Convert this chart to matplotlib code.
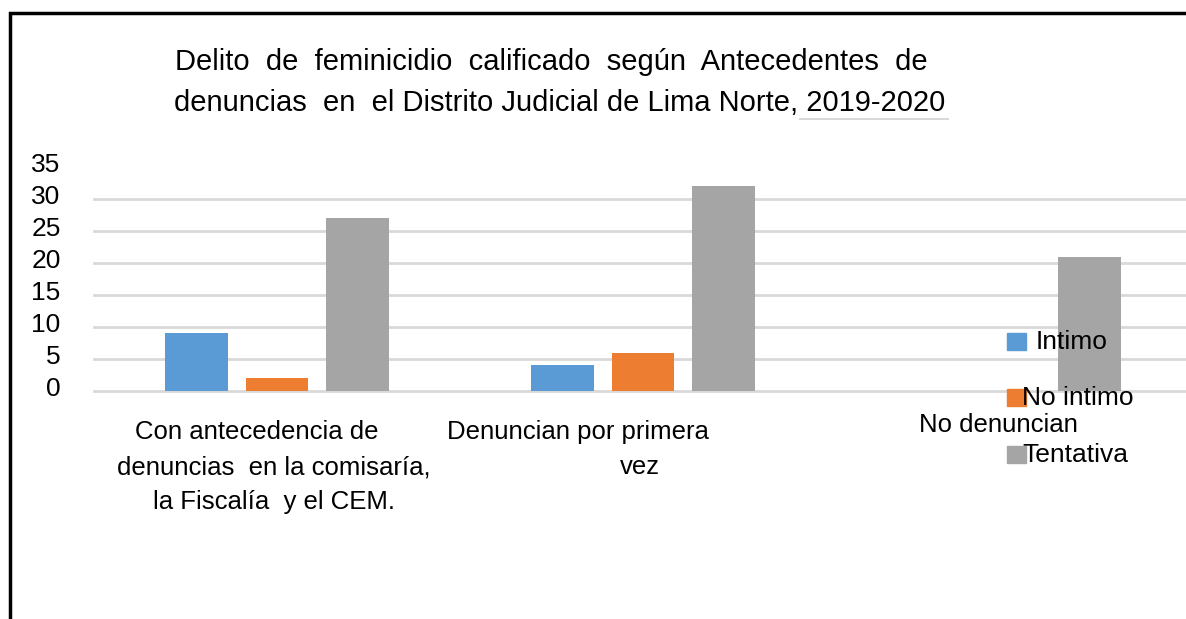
import numpy as np
import matplotlib
matplotlib.use("Agg")
import matplotlib.pyplot as plt
from matplotlib.patches import Rectangle
from matplotlib.lines import Line2D
from matplotlib.transforms import ScaledTranslation

plt.rcParams["font.family"] = ["Liberation Sans", "DejaVu Sans"]

W, H = 1186, 619

categories = ["Con antecedencia de\ndenuncias  en la comisaría,\nla Fiscalía  y el CEM.",
              "Denuncian por primera\nvez",
              "No denuncian"]
series = ["Intimo", "No intimo", "Tentativa"]
intimo = [9, 4, 0]
no_intimo = [2, 6, 0]
tentativa = [27, 32, 21]
yticks = [0, 5, 10, 15, 20, 25, 30, 35]
title_lines = ["Delito  de  feminicidio  calificado  según  Antecedentes  de",
               "denuncias  en  el Distrito Judicial de Lima Norte, 2019-2020"]

colors = ["#5B9BD5", "#ED7D31", "#A5A5A5"]
grid_c = "#D9D9D9"


def fx(x):
    return x / W


def fy(y):
    return 1 - y / H


fig = plt.figure(figsize=(W / 100, H / 100), dpi=100)
ax = fig.add_axes([fx(94), fy(391), (W - 94) / W, (391 - 167) / H])

x = np.arange(len(categories))
bw = 0.172
step = 0.221
for i, (vals, c) in enumerate(zip([intimo, no_intimo, tentativa], colors)):
    ax.bar(x + (i - 1) * step, vals, width=bw, color=c, zorder=3)

ax.set_xlim(-0.5, -0.5 + (W - 94) / 366)
ax.set_ylim(0, 35)
ax.set_yticks(yticks)
ax.set_xticks([])
ax.yaxis.grid(True, color=grid_c, linewidth=2, zorder=0)
for gl in ax.get_ygridlines():
    gl.set_clip_on(False)
ax.get_ygridlines()[-1].set_visible(False)
ax.tick_params(axis="y", length=0, pad=24, labelsize=19)
up = ScaledTranslation(0, 4 / 100, fig.dpi_scale_trans)
for lab in ax.get_yticklabels():
    lab.set_transform(lab.get_transform() + up)
for s in ax.spines.values():
    s.set_visible(False)

# category labels, line by line
label_x = [[257, 274, 274], [578, 640], [998]]
label_y = [[432, 467, 502], [432, 467], [425]]
for cat, xs, ys in zip(categories, label_x, label_y):
    for line, lx, ly in zip(cat.split("\n"), xs, ys):
        fig.text(fx(lx), fy(ly), line, ha="center", va="center", fontsize=18.5)

# title
title_x = [551, 560]
title_y = [62, 103]
for line, tx, ty in zip(title_lines, title_x, title_y):
    fig.text(fx(tx), fy(ty), line, ha="center", va="center", fontsize=21)
fig.add_artist(Line2D([fx(800), fx(948)], [fy(119), fy(119)], color=grid_c, lw=1.5))

# legend drawn by hand to keep its overlapping look
leg_y = [342, 398, 455]
leg_tx = [1036, 1022, 1022]
for name, c, ly, tx in zip(series, colors, leg_y, leg_tx):
    fig.add_artist(Rectangle((fx(1007), fy(ly + 8)), 19 / W, 17 / H,
                             transform=fig.transFigure, color=c))
    fig.text(fx(tx), fy(ly), name, ha="left", va="center", fontsize=19)

# outer frame
fig.add_artist(Rectangle((fx(10), -0.1), 1.2, fy(13) + 0.1, transform=fig.transFigure,
                         fill=False, edgecolor="black", lw=2.5))

fig.savefig("out.png", dpi=100)
